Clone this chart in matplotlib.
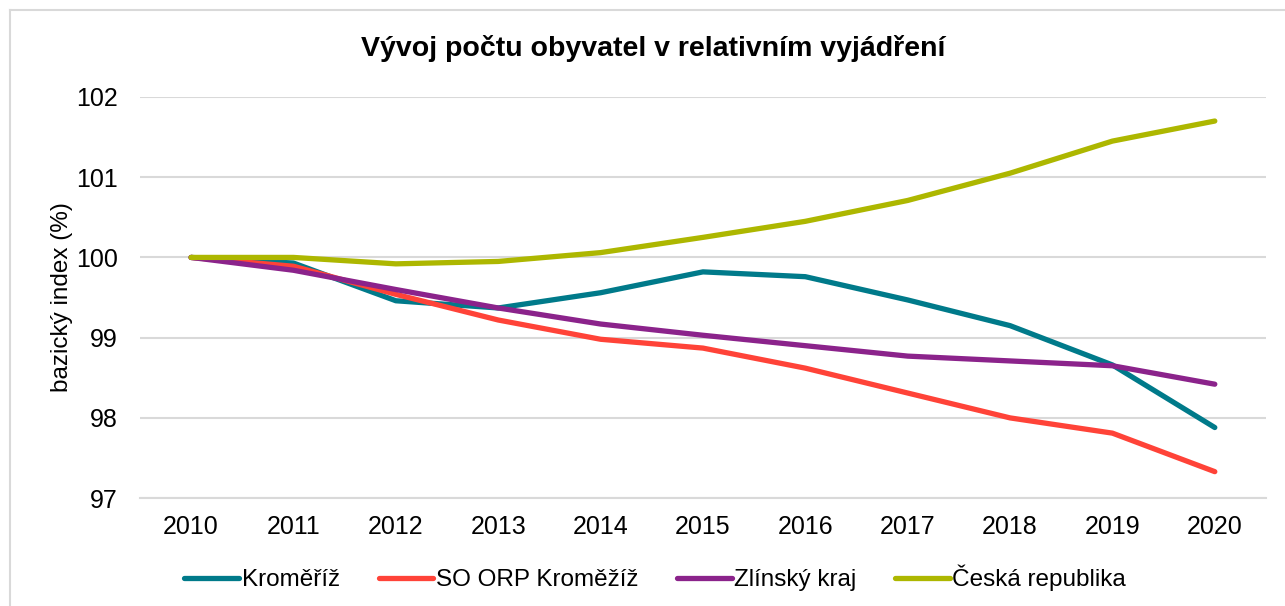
import matplotlib
matplotlib.use("Agg")
import matplotlib.pyplot as plt
from matplotlib.lines import Line2D

plt.rcParams['font.family'] = ['Liberation Sans', 'DejaVu Sans']

years = [2010, 2011, 2012, 2013, 2014, 2015, 2016, 2017, 2018, 2019, 2020]
kromeriz = [100.0, 99.93, 99.46, 99.37, 99.56, 99.82, 99.76, 99.47, 99.15, 98.66, 97.88]
so_orp = [100.0, 99.89, 99.54, 99.22, 98.98, 98.87, 98.62, 98.31, 98.00, 97.81, 97.33]
zlinsky = [100.0, 99.84, 99.60, 99.37, 99.17, 99.03, 98.90, 98.77, 98.71, 98.65, 98.42]
cr = [100.0, 100.0, 99.92, 99.95, 100.06, 100.25, 100.45, 100.71, 101.05, 101.45, 101.70]

series_names = ['Kroměříž', 'SO ORP Kroměžíž', 'Zlínský kraj', 'Česká republika']
colors = ['#007A8A', '#FF4338', '#8B238B', '#ADB700']
title = 'Vývoj počtu obyvatel v relativním vyjádření'
ylabel = 'bazický index (%)'

fig = plt.figure(figsize=(12.85, 6.06), dpi=100)
ax = fig.add_axes([0.1089, 0.178, 0.8763, 0.662])

x = list(range(len(years)))
for vals, name, c in zip([kromeriz, so_orp, zlinsky, cr], series_names, colors):
    ax.plot(x, vals, color=c, linewidth=3.8, solid_capstyle='round',
            solid_joinstyle='round', label=name, zorder=3)

ax.set_xlim(-0.5, len(years) - 0.5)
ax.set_ylim(97, 102)
ax.set_yticks([97, 98, 99, 100, 101, 102])
ax.set_xticks(x)
ax.set_xticklabels([str(y) for y in years])
ax.tick_params(axis='both', length=0, labelsize=18, colors='black')
ax.tick_params(axis='y', pad=16)
ax.tick_params(axis='x', pad=12)
ax.grid(axis='y', color='#D9D9D9', linewidth=1.5, zorder=0)
for s in ['top', 'right', 'left']:
    ax.spines[s].set_visible(False)
ax.spines['bottom'].set_color('#D9D9D9')
ax.spines['bottom'].set_linewidth(1.5)

ax.set_ylabel(ylabel, fontsize=17.5, labelpad=2)
fig.text(0.508, 1 - 48 / 606, title, ha='center', va='center',
         fontsize=20.5, fontweight='bold')

handles = [Line2D([0], [0], color=c, linewidth=3.8, solid_capstyle='round')
           for c in colors]
fig.legend(handles, series_names, loc='center', bbox_to_anchor=(0.51, 1 - 578 / 606),
           ncol=4, frameon=False, fontsize=17.5, handlelength=2.25,
           handletextpad=0.1, columnspacing=1.6)

# outer chart frame (only left and top edges visible in the crop)
fig.add_artist(Line2D([10 / 1285, 10 / 1285], [0, 1 - 10 / 606], color='#D9D9D9',
                      linewidth=1.5, transform=fig.transFigure))
fig.add_artist(Line2D([10 / 1285, 1], [1 - 10 / 606, 1 - 10 / 606], color='#D9D9D9',
                      linewidth=1.5, transform=fig.transFigure))

fig.savefig('out.png', dpi=100)
